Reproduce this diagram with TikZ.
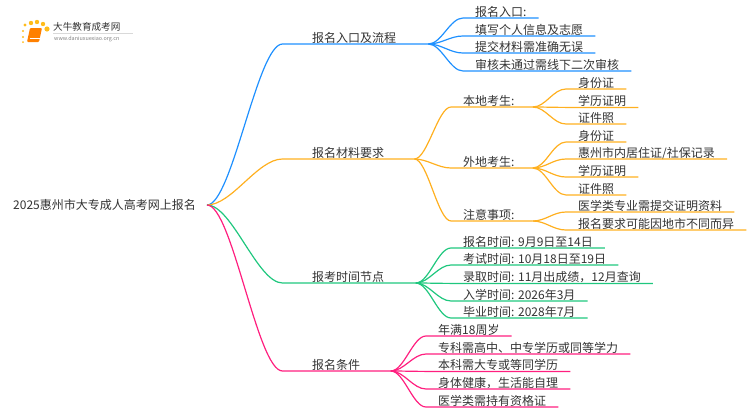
\documentclass[tikz,border=0pt]{standalone}
\usepackage{fontspec}
\setmainfont{Noto Sans CJK SC}
\definecolor{textgray}{HTML}{333333}
\definecolor{bluebr}{HTML}{1E90FF}
\definecolor{orangebr}{HTML}{FFB020}
\definecolor{greenbr}{HTML}{1FC77E}
\definecolor{pinkbr}{HTML}{FF1F7F}
\tikzset{
  txt/.style={anchor=south west, inner xsep=12pt, inner ysep=0pt, text height=10pt, text depth=1.5pt, font=\fontsize{12}{14}\selectfont, text=textgray},
  branch/.style={txt, inner xsep=29.5pt},
  link/.style={line width=1.2pt, out=0, in=180, distance=13pt},
  rootlink/.style={distance=25pt},
  bluelink/.style={link, draw=bluebr},
  orangelink/.style={link, draw=orangebr},
  greenlink/.style={link, draw=greenbr},
  pinklink/.style={link, draw=pinkbr}
}
\begin{document}
\begin{tikzpicture}[x=1pt, y=-1pt]
  \useasboundingbox (0,0) rectangle (750,410);

  \fill[orangebr!85!yellow] (23,31) circle (1.2) (25,25) circle (1.7) (31,23) circle (2.2) (37,22) circle (2.2) (43,24) circle (2.2) (47,29) circle (2.6) (23,37) circle (1.2) (23,42) circle (1);
  \fill[orange, rounded corners=1pt] (30,28) -- (42,28) -- (39,42) -- (27,42) -- cycle;
  \draw[white, line width=0.5pt] (29.5,38.5) -- (39.5,38.5);
  \draw[gray!30, line width=0.4pt] (53,33.5) -- (133,33.5);
  \node[anchor=west, inner sep=0pt, font=\fontsize{9.6}{11}\selectfont, text=textgray] (logotitle) at (53,27) {大牛教育成考网};
  \node[anchor=west, inner sep=0pt, font=\fontsize{5.4}{7}\selectfont, text=gray] (logourl) at (54,39) {www.daniuxuexiao.org.cn};

  \node[txt, anchor=west, inner xsep=11pt] (root) at (2,205) {2025惠州市大专成人高考网上报名};

  \node[branch] (entry) at (282.5,44) {报名入口及流程};
  \node[branch] (material) at (282.5,159) {报名材料要求};
  \node[branch] (dates) at (282.5,283) {报考时间节点};
  \node[branch] (cond) at (282.5,371) {报名条件};
  \coordinate (entryend) at ([xshift=2.5pt]entry.south east);
  \coordinate (materialend) at ([xshift=0.5pt]material.south east);
  \coordinate (datesend) at ([xshift=2pt]dates.south east);
  \coordinate (condend) at ([xshift=1pt]cond.south east);

  \node[txt] (entry1) at (463,18) {报名入口:};
  \node[txt] (entry2) at (463,36) {填写个人信息及志愿};
  \node[txt] (entry3) at (463,53) {提交材料需准确无误};
  \node[txt] (entry4) at (463,71) {审核未通过需线下二次审核};

  \node[txt] (local) at (451,107) {本地考生:};
  \node[txt] (other) at (451,168) {外地考生:};
  \node[txt] (notes) at (451,221) {注意事项:};
  \coordinate (localend) at ([xshift=6pt]local.south east);
  \coordinate (otherend) at ([xshift=6pt]other.south east);
  \coordinate (notesend) at ([xshift=6pt]notes.south east);

  \node[txt] (local1) at (566,89) {身份证};
  \node[txt] (local2) at (566,107.4) {学历证明};
  \node[txt] (local3) at (566,124) {证件照};
  \node[txt] (other1) at (566,142) {身份证};
  \node[txt] (other2) at (566,159) {惠州市内居住证/社保记录};
  \node[txt] (other3) at (566,177) {学历证明};
  \node[txt] (other4) at (566,195) {证件照};
  \node[txt] (notes1) at (566,212) {医学类专业需提交证明资料};
  \node[txt] (notes2) at (566,230) {报名要求可能因地市不同而异};

  \node[txt] (dates1) at (451,248) {报名时间: 9月9日至14日};
  \node[txt] (dates2) at (451,265) {考试时间: 10月18日至19日};
  \node[txt] (dates3) at (451,283.4) {录取时间: 11月出成绩，12月查询};
  \node[txt] (dates4) at (451,301) {入学时间: 2026年3月};
  \node[txt] (dates5) at (451,318) {毕业时间: 2028年7月};

  \node[txt] (cond1) at (426,336) {年满18周岁};
  \node[txt] (cond2) at (426,354) {专科需高中、中专学历或同等学力};
  \node[txt] (cond3) at (426,371.4) {本科需大专或等同学历};
  \node[txt] (cond4) at (426,389) {身体健康，生活能自理};
  \node[txt] (cond5) at (426,407) {医学类需持有资格证};

  \draw[bluelink, rootlink] (root.east) to (entry.south west) -- (entryend);
  \draw[orangelink, rootlink] (root.east) to (material.south west) -- (materialend);
  \draw[greenlink, rootlink] (root.east) to (dates.south west) -- (datesend);
  \draw[pinklink, rootlink] (root.east) to (cond.south west) -- (condend);

  \draw[bluelink] (entryend) to (entry1.south west) -- (entry1.south east);
  \draw[bluelink] (entryend) to (entry2.south west) -- (entry2.south east);
  \draw[bluelink] (entryend) to (entry3.south west) -- (entry3.south east);
  \draw[bluelink] (entryend) to (entry4.south west) -- (entry4.south east);

  \draw[orangelink] (materialend) to (local.south west) -- (localend);
  \draw[orangelink] (materialend) to (other.south west) -- (otherend);
  \draw[orangelink] (materialend) to (notes.south west) -- (notesend);
  \draw[orangelink] (localend) to (local1.south west) -- (local1.south east);
  \draw[orangelink] (localend) to (local2.south west) -- (local2.south east);
  \draw[orangelink] (localend) to (local3.south west) -- (local3.south east);
  \draw[orangelink] (otherend) to (other1.south west) -- (other1.south east);
  \draw[orangelink] (otherend) to (other2.south west) -- (other2.south east);
  \draw[orangelink] (otherend) to (other3.south west) -- (other3.south east);
  \draw[orangelink] (otherend) to (other4.south west) -- (other4.south east);
  \draw[orangelink] (notesend) to (notes1.south west) -- (notes1.south east);
  \draw[orangelink] (notesend) to (notes2.south west) -- (notes2.south east);

  \draw[greenlink] (datesend) to (dates1.south west) -- (dates1.south east);
  \draw[greenlink] (datesend) to (dates2.south west) -- (dates2.south east);
  \draw[greenlink] (datesend) to (dates3.south west) -- (dates3.south east);
  \draw[greenlink] (datesend) to (dates4.south west) -- (dates4.south east);
  \draw[greenlink] (datesend) to (dates5.south west) -- (dates5.south east);

  \draw[pinklink] (condend) to (cond1.south west) -- (cond1.south east);
  \draw[pinklink] (condend) to (cond2.south west) -- (cond2.south east);
  \draw[pinklink] (condend) to (cond3.south west) -- (cond3.south east);
  \draw[pinklink] (condend) to (cond4.south west) -- (cond4.south east);
  \draw[pinklink] (condend) to (cond5.south west) -- (cond5.south east);
\end{tikzpicture}
\end{document}
